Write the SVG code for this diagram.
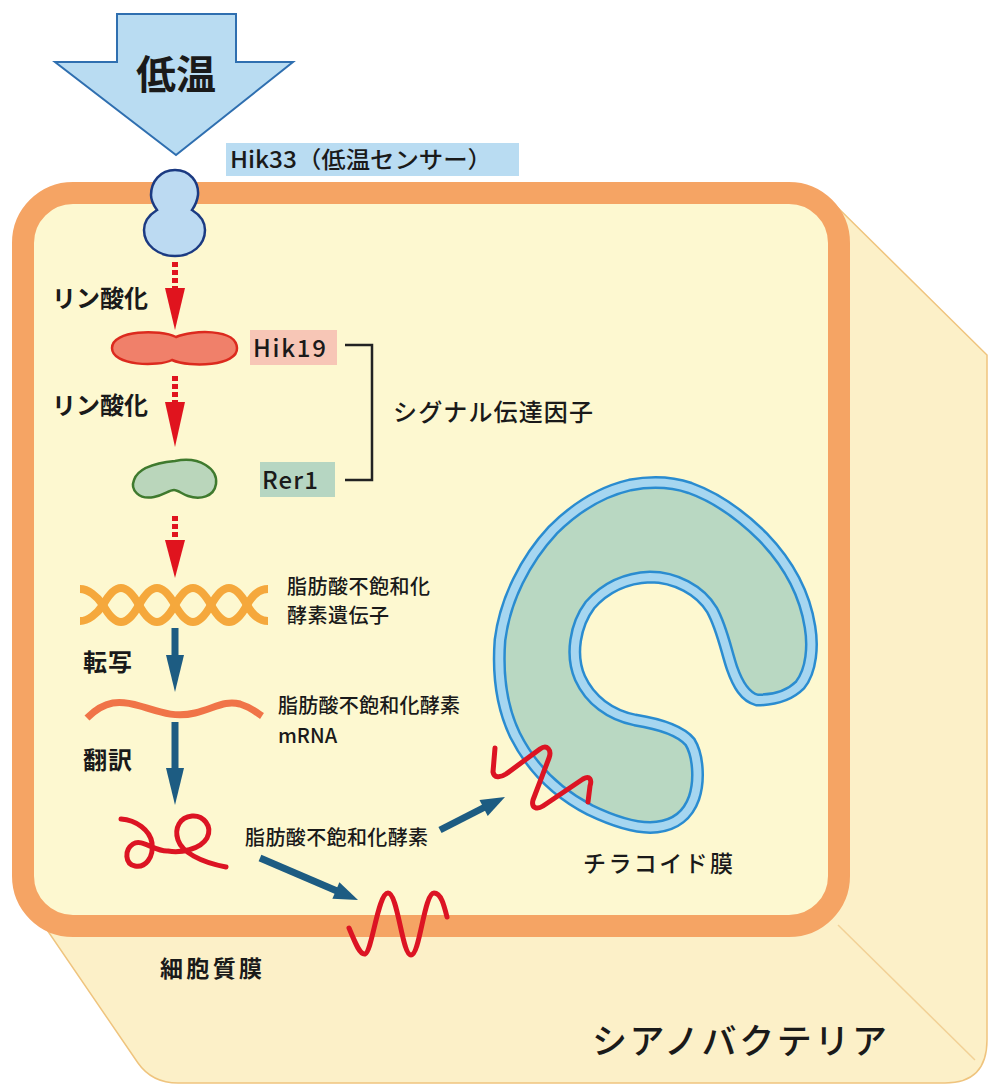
<svg xmlns="http://www.w3.org/2000/svg" width="988" height="1089" viewBox="0 0 988 1089">
  <style>
    .jp { font-family: "Noto Sans CJK JP", "Noto Sans", sans-serif; fill: #1a1a1a; }
    .b { font-weight: 700; }
    .m { font-weight: 500; }
    .red { fill: #e0141e; }
    .dash { stroke: #e0141e; stroke-width: 6; stroke-dasharray: 5 3; fill: none; }
    .blue { fill: #1d5c82; }
    .shaft { stroke: #1d5c82; stroke-width: 7; fill: none; }
    .membrane-dark { fill: none; stroke: #2a8cd0; stroke-width: 13; stroke-linejoin: round; }
    .membrane-light { fill: none; stroke: #a6d6f0; stroke-width: 8; stroke-linejoin: round; }
    .coil { fill: none; stroke: #dc1423; stroke-width: 5; stroke-linecap: round; stroke-linejoin: round; }
  </style>

  <rect width="988" height="1089" fill="#ffffff"/>

  <!-- cell body: rear slab and front face -->
  <g id="cell">
    <path d="M830,200 L987,355 L987,1040 Q987,1083 945,1083 L178,1083 Q152,1083 138,1063 L30,905 L830,905 Z" fill="#fcf0c8" stroke="#efc47e" stroke-width="1.5"/>
    <line x1="838" y1="925" x2="975" y2="1060" stroke="#f2d196" stroke-width="1.5"/>
    <rect x="23" y="193" width="816" height="733" rx="50" fill="#fdf8d0" stroke="#f5a464" stroke-width="22"/>
  </g>

  <!-- cold stimulus arrow -->
  <g id="cold">
    <path d="M117,14 L236,14 L236,62 L293,62 L176,155 L55,62 L117,62 Z" fill="#b9dcf2" stroke="#2f6fb0" stroke-width="2"/>
    <text x="176" y="89" text-anchor="middle" class="jp b" font-size="40">低温</text>
  </g>

  <!-- Hik33 sensor -->
  <g id="hik33">
    <rect x="226" y="143" width="293" height="33" fill="#b9dcf2"/>
    <text x="230" y="168" class="jp m" font-size="23" textLength="262" lengthAdjust="spacingAndGlyphs">Hik33（低温センサー）</text>
    <path d="M175,170 C190,170 199,182 198,195 C197,203 194,207 192,210 C200,215 205,222 205,230 C205,245 192,256 175,256 C158,256 144,245 144,230 C144,222 149,215 157,210 C155,207 151,202 151,195 C151,182 160,170 175,170 Z" fill="#bcdaf2" stroke="#1b3a82" stroke-width="2.5"/>
  </g>

  <!-- Hik19 -->
  <g id="hik19">
    <path d="M176,337 C192,330 236,328 237,348 C238,366 190,368 172,360 C158,367 112,366 112,348 C112,330 160,329 176,337 Z" fill="#f0806a" stroke="#dc2a1e" stroke-width="2.5"/>
    <rect x="250" y="330" width="87" height="35" fill="#f7c6b6"/>
    <text x="253" y="357" class="jp m" font-size="24" textLength="73">Hik19</text>
  </g>

  <!-- Rer1 -->
  <g id="rer1">
    <path d="M175,461 C200,456 218,469 216,484 C214,497 200,500 188,496 C182,494 178,490 174,490 C169,490 164,495 154,497 C139,500 130,490 134,480 C138,468 155,463 175,461 Z" fill="#bad6bb" stroke="#3f7a2e" stroke-width="2.5"/>
    <rect x="260" y="462" width="75" height="35" fill="#b6d6c2"/>
    <text x="262" y="489" class="jp m" font-size="24" textLength="56">Rer1</text>
  </g>

  <!-- signal transduction bracket -->
  <g id="signal-label">
    <path d="M345,345 L372,345 L372,480 L345,480" fill="none" stroke="#222" stroke-width="2.5"/>
    <text x="393" y="421" class="jp m" font-size="24" textLength="200">シグナル伝達因子</text>
  </g>

  <!-- gene -->
  <g id="gene">
    <path d="M80,621 C88,621 97,614 103,605 C115.6,582.3 126.4,582.3 139,605 C151.6,627.7 162.4,627.7 175,605 C187.6,582.3 198.4,582.3 211,605 C223.6,627.7 234.4,627.7 247,605 C253,594 260,589 268,589" fill="none" stroke="#f5a83c" stroke-width="8"/>
    <path d="M80,589 C88,589 97,596 103,605 C115.6,627.7 126.4,627.7 139,605 C151.6,582.3 162.4,582.3 175,605 C187.6,627.7 198.4,627.7 211,605 C223.6,582.3 234.4,582.3 247,605 C253,616 260,621 268,621" fill="none" stroke="#f5a83c" stroke-width="8"/>
    <text x="287" y="594" class="jp m" font-size="20" textLength="143">脂肪酸不飽和化</text>
    <text x="287" y="623" class="jp m" font-size="20" textLength="102">酵素遺伝子</text>
  </g>

  <!-- mRNA -->
  <g id="mrna">
    <path d="M87,718 C105,700 120,700 140,706 C160,712 175,718 195,713 C215,708 225,700 240,704 C250,707 256,712 262,716" fill="none" stroke="#f07448" stroke-width="7"/>
    <text x="278" y="713" class="jp m" font-size="20" textLength="182">脂肪酸不飽和化酵素</text>
    <text x="278" y="743" class="jp m" font-size="20">mRNA</text>
  </g>

  <!-- enzyme -->
  <g id="enzyme">
    <path class="coil" d="M121,819 C136,820 150,830 152,843 C154,858 145,868 135,866 C125,864 124,850 133,844 C142,838 155,852 168,851 C180,853 200,850 207,838 C213,826 203,815 192,816 C180,817 174,828 178,840 C182,852 200,862 226,867"/>
    <text x="245" y="845" class="jp m" font-size="20" textLength="183">脂肪酸不飽和化酵素</text>
  </g>

  <!-- thylakoid membrane -->
  <g id="thylakoid">
    <path d="M757,700 C775,700 790,695 800,685 C812,670 813,645 810,627 C805,595 790,565 763,537 C740,514 715,497 690,488 C672,482 652,481 630,485 C600,492 575,508 553,530 C525,560 505,600 500,640 C497,680 503,710 515,735 C530,765 555,792 590,810 C615,822 640,829 657,827 C675,825 688,815 694,798 C700,780 698,755 690,742 C680,730 660,724 635,720 C610,715 590,700 580,678 C570,655 575,625 590,605 C605,588 625,578 650,577 C675,577 700,590 712,610 C722,628 726,650 732,668 C738,685 745,697 757,700 Z" fill="#b9d8c2"/>
    <path class="membrane-dark" d="M757,700 C775,700 790,695 800,685 C812,670 813,645 810,627 C805,595 790,565 763,537 C740,514 715,497 690,488 C672,482 652,481 630,485 C600,492 575,508 553,530 C525,560 505,600 500,640 C497,680 503,710 515,735 C530,765 555,792 590,810 C615,822 640,829 657,827 C675,825 688,815 694,798 C700,780 698,755 690,742 C680,730 660,724 635,720 C610,715 590,700 580,678 C570,655 575,625 590,605 C605,588 625,578 650,577 C675,577 700,590 712,610 C722,628 726,650 732,668 C738,685 745,697 757,700 Z"/>
    <path class="membrane-light" d="M757,700 C775,700 790,695 800,685 C812,670 813,645 810,627 C805,595 790,565 763,537 C740,514 715,497 690,488 C672,482 652,481 630,485 C600,492 575,508 553,530 C525,560 505,600 500,640 C497,680 503,710 515,735 C530,765 555,792 590,810 C615,822 640,829 657,827 C675,825 688,815 694,798 C700,780 698,755 690,742 C680,730 660,724 635,720 C610,715 590,700 580,678 C570,655 575,625 590,605 C605,588 625,578 650,577 C675,577 700,590 712,610 C722,628 726,650 732,668 C738,685 745,697 757,700 Z"/>
    <path class="coil" d="M495,748 L493,772 C494,778 500,778 506,774 L540,749 C547,744 552,750 549,758 L533,800 C531,808 537,810 543,806 L583,779 C590,775 592,780 590,786 L588,802"/>
    <text x="583" y="872" class="jp m" font-size="23" textLength="150">チラコイド膜</text>
  </g>

  <!-- enzyme embedded in the plasma membrane -->
  <g id="plasma-membrane">
    <path class="coil" d="M349,928 C356,945 360,955 365,954 C372,952 378,893 388,893 C398,893 402,955 411,955 C420,955 424,893 434,893 C441,893 444,905 447,917"/>
    <text x="160" y="977" class="jp b" font-size="23" textLength="102">細胞質膜</text>
  </g>

  <text x="592" y="1054" class="jp m" font-size="35" textLength="295">シアノバクテリア</text>

  <!-- pathway labels -->
  <g id="labels">
    <text x="52" y="307" class="jp b" font-size="24" textLength="96">リン酸化</text>
    <text x="52" y="414" class="jp b" font-size="24" textLength="96">リン酸化</text>
    <text x="83" y="671" class="jp b" font-size="24" textLength="49">転写</text>
    <text x="83" y="769" class="jp b" font-size="24" textLength="49">翻訳</text>
  </g>

  <!-- connectors -->
  <g id="connectors">
    <line class="dash" x1="175" y1="262" x2="175" y2="288"/>
    <polygon class="red" points="165,288 185,288 175,330"/>
    <line class="dash" x1="175" y1="376" x2="175" y2="402"/>
    <polygon class="red" points="165,402 185,402 175,447"/>
    <line class="dash" x1="175" y1="516" x2="175" y2="540"/>
    <polygon class="red" points="165,540 185,540 175,578"/>

    <line class="shaft" x1="175" y1="628" x2="175" y2="660"/>
    <polygon class="blue" points="166,655 184,655 175,692"/>
    <line class="shaft" x1="175" y1="722" x2="175" y2="772"/>
    <polygon class="blue" points="166,768 184,768 175,805"/>

    <line class="shaft" x1="440" y1="830" x2="485" y2="807"/>
    <polygon class="blue" points="505,797 487.7,815.9 479.5,799.9"/>
    <line class="shaft" x1="260" y1="858" x2="337" y2="891"/>
    <polygon class="blue" points="358,900 332.4,898.8 339.4,882.2"/>
  </g>
</svg>
